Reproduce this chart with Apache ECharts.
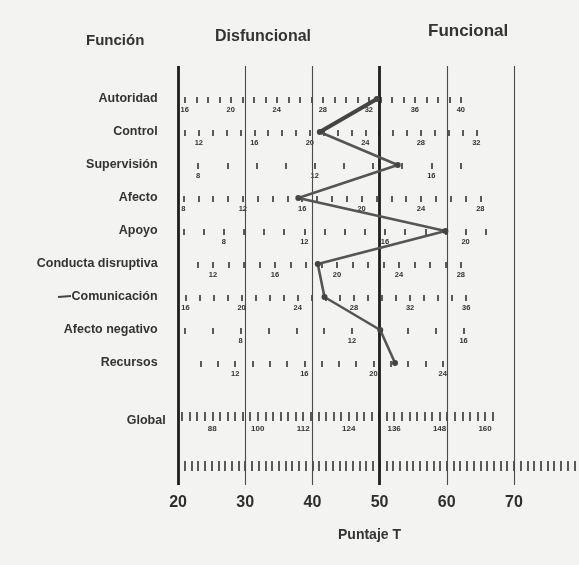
<!DOCTYPE html>
<html><head><meta charset="utf-8">
<script src="https://cdn.jsdelivr.net/npm/echarts@6/dist/echarts.min.js"></script>
<style>html,body{margin:0;padding:0;background:#f3f3f1}#c{width:579px;height:565px}</style>
</head><body><div id="c"></div>
<script>
// ---- Data ----
const rows = ['Autoridad','Control','Supervisión','Afecto','Apoyo','Conducta disruptiva','Comunicación','Afecto negativo','Recursos'];
const rowPos = [1,2,3,4,5,6,7,8,9];
const tScores = [49.6, 41.1, 52.7, 37.9, 59.8, 40.8, 41.8, 50.1, 52.3];
const globalPos = 10.73;
const tTickLabels = [20,30,40,50,60,70];
const tLines = [20,30,40,50,60,70];
const tThick = [20,50];

// raw-score scales per row: labelled raw values and where they sit on the T axis
const autoridadLabels = [16,20,24,28,32,36,40];
const autoridadLabelT = [21.0,27.7,34.5,40.7,47.7,54.5,62.1];
const controlLabels = [12,16,20,24,28,32];
const controlLabelT = [23.1,31.0,38.9,47.7,55.7,64.4];
const supervisionLabels = [8,12,16];
const supervisionLabelT = [23.0,39.6,57.7];
const afectoLabels = [8,12,16,20,24,28];
const afectoLabelT = [20.8,28.7,37.6,46.4,55.3,65.0];
const apoyoLabels = [8,12,16,20];
const apoyoLabelT = [26.8,38.4,50.2,62.8];
const conductaLabels = [12,16,20,24,28];
const conductaLabelT = [25.2,33.6,43.6,52.3,62.1];
const comunicacionLabels = [16,20,24,28,32,36];
const comunicacionLabelT = [21.1,28.6,37.6,45.6,53.4,62.9];
const afectoNegLabels = [8,12,16];
const afectoNegLabelT = [29.3,46.0,62.5];
const recursosLabels = [12,16,20,24];
const recursosLabelT = [28.5,39.5,49.6,59.4];
const globalLabels = [88,100,112,124,136,148,160];
const globalLabelT = [25.1,31.8,39.2,45.3,50.5,58.5,65.7];

// tick ranges [first, last, step] in raw units
const autoridadTicks = [16,40,1];
const controlTicks = [11,32,1];
const supervisionTicks = [8,17,1];
const afectoTicks = [8,28,1];
const apoyoTicks = [6,21,1];
const conductaTicks = [11,28,1];
const comunicacionTicks = [16,36,1];
const afectoNegTicks = [6,16,1];
const recursosTicks = [10,24,1];
const globalTicks = [80,162,2];
const bottomTicks = [21,79,1];

// ---- Layout ----
const L = 164.6, R = 4.6, TMIN = 18, TMAX = 79;
const TOP = 66, UNIT = 33, YMAX = 12.7;
const FONT = '"Liberation Sans", Arial, sans-serif';
const rowY = v => TOP + v * UNIT;
const range = a => { const out=[]; for (let v=a[0]; v<=a[1]+1e-9; v+=a[2]) out.push(v); return out; };

const grids = [{left:L, right:R, top:TOP, height:YMAX*UNIT}];
const xAxes = [{
  gridIndex:0, type:'value', min:TMIN, max:TMAX,
  axisLine:{show:false}, axisTick:{show:false}, splitLine:{show:false},
  axisLabel:{customValues:tTickLabels, fontSize:16, fontWeight:'bold', color:'#2e2e2e', margin:9, fontFamily:FONT},
  name:'Puntaje T', nameLocation:'middle', nameGap:43,
  nameTextStyle:{fontSize:14, fontWeight:'bold', color:'#333', fontFamily:FONT}
}];
const labStyle = {fontSize:12.5, fontWeight:'bold', color:'#333', fontFamily:FONT};
const yAxes = [{
  gridIndex:0, type:'value', min:0, max:YMAX, inverse:true,
  axisLine:{show:false}, axisTick:{show:false}, splitLine:{show:false},
  axisLabel:{customValues:rowPos.concat([globalPos]), margin:0,
    rich:{r:Object.assign({padding:[0,7,0,0]}, labStyle), g:Object.assign({padding:[0,-1,0,0]}, labStyle)},
    formatter: v => { if (Math.abs(v-globalPos)<0.01) return '{g|Global}'; const i = rowPos.indexOf(Math.round(v)); return i>=0 ? '{r|' + rows[i] + '}' : ''; }}
}];

function addScale(y, labels, labelT, ticks, opts) {
  opts = opts || {};
  const n = labels ? labels.length - 1 : 0;
  let min, max;
  if (labels) {
    const slope = (labelT[n]-labelT[0])/(labels[n]-labels[0]);
    min = labels[0] - (labelT[0]-TMIN)/slope;
    max = labels[0] + (TMAX-labelT[0])/slope;
  } else { min = TMIN; max = TMAX; }
  const k = grids.length;
  grids.push({left:L, right:R, top:y-3, height:1});
  xAxes.push({gridIndex:k, type:'value', min:min, max:max,
    axisLine:{show:false}, splitLine:{show:false},
    axisTick:{show:true, customValues:range(ticks), length:opts.len||6, lineStyle:{color:'#333', width:1.6}},
    axisLabel:{show:!!labels, customValues:labels||[], fontSize:opts.fs||7.5, fontWeight:'bold', color:'#333', margin:opts.margin||9, fontFamily:FONT}
  });
  yAxes.push({gridIndex:k, type:'value', show:false, min:0, max:1});
}
addScale(rowY(1), autoridadLabels, autoridadLabelT, autoridadTicks);
addScale(rowY(2), controlLabels, controlLabelT, controlTicks);
addScale(rowY(3), supervisionLabels, supervisionLabelT, supervisionTicks);
addScale(rowY(4), afectoLabels, afectoLabelT, afectoTicks);
addScale(rowY(5), apoyoLabels, apoyoLabelT, apoyoTicks);
addScale(rowY(6), conductaLabels, conductaLabelT, conductaTicks);
addScale(rowY(7), comunicacionLabels, comunicacionLabelT, comunicacionTicks);
addScale(rowY(8), afectoNegLabels, afectoNegLabelT, afectoNegTicks);
addScale(rowY(9), recursosLabels, recursosLabelT, recursosTicks);
addScale(rowY(globalPos)-6, globalLabels, globalLabelT, globalTicks, {len:9, fs:8, margin:13});
addScale(rowY(12.12)-3, null, null, bottomTicks, {len:10});

const vLineData = tLines.map(t => ({xAxis:t, lineStyle:{color: tThick.includes(t)?'#1e1e1e':'#4a4a4a', width: tThick.includes(t)?2.8:1.1, type:'solid'}}));

const option = {
  backgroundColor:'#f3f3f1',
  animation:false,
  grid: grids, xAxis: xAxes, yAxis: yAxes,
  graphic:[
    {type:'text', left:86, top:33, style:{text:'Función', font:'bold 15px ' + FONT, fill:'#333'}},
    {type:'text', left:215, top:29, style:{text:'Disfuncional', font:'bold 16px ' + FONT, fill:'#333'}},
    {type:'text', left:428, top:23, style:{text:'Funcional', font:'bold 17px ' + FONT, fill:'#333'}},
    {type:'line', shape:{x1:58, y1:297, x2:71, y2:296}, style:{stroke:'#444', lineWidth:2.2}}
  ],
  series:[
    {type:'line', xAxisIndex:0, yAxisIndex:0, data: tScores.map((t,i)=>[t,rowPos[i]]),
     lineStyle:{color:'#555', width:2.6}, itemStyle:{color:'#444'}, symbol:'circle', symbolSize:6, z:5,
     markLine:{silent:true, symbol:'none', label:{show:false}, data:vLineData, z:1}},
    {type:'line', xAxisIndex:0, yAxisIndex:0, data: tScores.slice(0,2).map((t,i)=>[t,rowPos[i]]),
     lineStyle:{color:'#444', width:4}, symbol:'none', z:6}
  ]
};
echarts.init(document.getElementById('c')).setOption(option);
</script></body></html>
